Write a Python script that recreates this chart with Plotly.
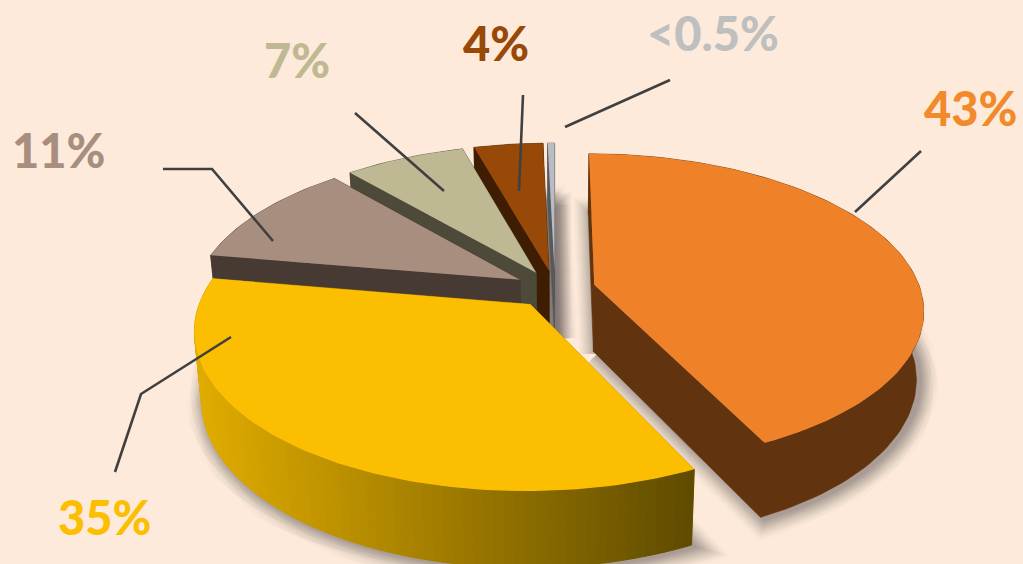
import numpy as np
import plotly.graph_objects as go

# Shares in drawing order, clockwise from twelve o'clock
categories = ["A", "B", "C", "D", "E", "F"]
values = [43, 35, 11, 7, 4, 0.4]
label_texts = ["43%", "35%", "11%", "7%", "4%", "<0.5%"]

top_colors = ["#EF8229", "#FCBE00", "#A88E7E", "#BFB993", "#984807", "#B9BDC3"]
wall_colors = ["#61330E", "#B88B00", "#473A33", "#4D4A3A", "#3E1D02", "#55585C"]
label_colors = ["#F28A2B", "#FCBE00", "#A88E7E", "#BFB993", "#984807", "#BFBFBF"]

label_pos = [(970, 108), (104, 517), (58, 150), (297, 60), (496, 43), (713, 33)]
leaders = [
    [(921, 151), (855, 212)],
    [(115, 472), (141, 394), (231, 337)],
    [(163, 169), (212, 169), (273, 241)],
    [(355, 113), (444, 191)],
    [(523, 95), (519, 191)],
    [(670, 80), (565, 127)],
]

BG = "#FDEADA"
CX, CY = 555.0, 289.0      # screen position of the pie axis
SX, SY = 326.0, 152.5      # horizontal and vertical radius before perspective
PERSP = 0.155              # foreshortening along the depth direction
SINK = 0.02                # shrink of the lower face
DEPTH = 67.0               # thickness of the extrusion
EXPLODE = 0.124            # pull-out of every wedge


def project(u, v, lower=False):
    u, v = np.asarray(u, float), np.asarray(v, float)
    f = 1.0 / (1.0 - PERSP * v)
    if lower:
        return CX + SX * u * f * (1 - SINK), CY + SY * v * f * (1 - SINK) + DEPTH * f
    return CX + SX * u * f, CY + SY * v * f


def poly(x, y, color, line=0.0, opacity=None):
    tr = go.Scatter(
        x=list(x) + [x[0]], y=list(y) + [y[0]], mode="lines", fill="toself",
        fillcolor=color, line=dict(color=color, width=line),
        hoverinfo="skip", showlegend=False,
    )
    if opacity is not None:
        tr.opacity = opacity
    return tr


fractions = np.array(values) / sum(values)
edges = np.concatenate([[0], np.cumsum(fractions)]) * 2 * np.pi

wedges = []
for i in range(len(values)):
    a0, a1 = edges[i], edges[i + 1]
    mid = (a0 + a1) / 2
    ox, oy = EXPLODE * np.sin(mid), -EXPLODE * np.cos(mid)
    th = np.linspace(a0, a1, max(3, int(np.degrees(a1 - a0) / 1.5)))
    wedges.append((ox, oy, ox + np.sin(th), oy - np.cos(th)))

fig = go.Figure()

# Soft drop shadow: translucent copies of each lower face, widening outward
for g in np.arange(19, 0, -1.0):
    layer_alpha = 0.03 * (1 - (g / 20.0) ** 2)
    for ox, oy, ru, rv in wedges:
        bu = np.concatenate([[ox], ru])
        bv = np.concatenate([[oy], rv])
        x, y = project(bu, bv, lower=True)
        fig.add_trace(poly(x + 4, y + 2, "#2e2e2e", line=g * 2, opacity=float(layer_alpha)))


def rim_color(x):
    t = np.clip((x - 200.0) / 500.0, 0, 1)
    left, right = np.array([224, 172, 0]), np.array([94, 74, 0])
    c = left + (right - left) * t
    return "rgb(%d,%d,%d)" % tuple(c)


def draw_wedge(i):
    ox, oy, ru, rv = wedges[i]
    tx, ty = project(ru, rv)
    bx, by = project(ru, rv, lower=True)
    ax, ay = project(ox, oy)
    cx, cy = project(ox, oy, lower=True)
    wall = wall_colors[i]
    # Cut faces from the axis to both radial edges
    for k in (-1, 0):
        fig.add_trace(poly([ax, tx[k], bx[k], cx], [ay, ty[k], by[k], cy], wall, line=0.6))
    # Outer wall, shaded strip by strip on the gold wedge
    if i == 1:
        for j in range(len(tx) - 1):
            fig.add_trace(poly(
                [tx[j], tx[j + 1], bx[j + 1], bx[j]],
                [ty[j], ty[j + 1], by[j + 1], by[j]],
                rim_color((tx[j] + tx[j + 1]) / 2), line=1,
            ))
    else:
        fig.add_trace(poly(np.r_[tx, bx[::-1]], np.r_[ty, by[::-1]], wall, line=0.6))
    # Upper face
    fig.add_trace(poly(np.r_[ax, tx], np.r_[ay, ty], top_colors[i]))


for i in [0, 5, 4, 3, 2, 1]:
    draw_wedge(i)

for pts in leaders:
    fig.add_trace(go.Scatter(
        x=[p[0] for p in pts], y=[p[1] for p in pts], mode="lines",
        line=dict(color="#404040", width=2.6), hoverinfo="skip", showlegend=False,
    ))

for text, pos, col in zip(label_texts, label_pos, label_colors):
    fig.add_annotation(
        x=pos[0], y=pos[1], text=text, showarrow=False,
        font=dict(family="Lato", size=47, color=col, weight=900),
        xanchor="center", yanchor="middle",
    )

fig.update_layout(
    width=1023, height=564, margin=dict(l=0, r=0, t=0, b=0),
    paper_bgcolor=BG, plot_bgcolor=BG, showlegend=False,
    xaxis=dict(range=[0, 1023], visible=False, fixedrange=True),
    yaxis=dict(range=[564, 0], visible=False, fixedrange=True),
)
fig.write_html("out.html", config=dict(displayModeBar=False))
